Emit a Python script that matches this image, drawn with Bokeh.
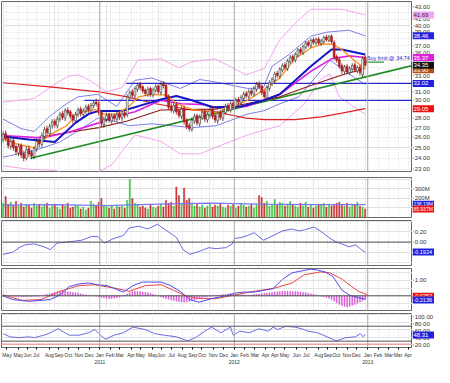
from bokeh.plotting import figure
from bokeh.models import Range1d, FixedTicker, Span, Grid, ColumnDataSource
from bokeh.layouts import column, row
from bokeh.core.properties import value
from bokeh.embed import file_html
from bokeh.resources import INLINE

# ---------------- data (weekly bars, index 0 = late Apr 2010) ----------------
weeks = list(range(141))
opens = [25.8, 26.4, 25.9, 25.1, 25.7, 25.1, 24.5, 25.2, 24.4, 24.0,
         24.9, 24.5, 24.1, 24.9, 25.7, 25.3, 26.1, 26.9, 26.4, 27.2,
         27.7, 27.2, 27.9, 28.5, 28.0, 28.9, 28.7, 28.3, 27.7, 28.4,
         29.0, 28.4, 28.8, 29.3, 28.8, 29.4, 29.8, 29.6, 28.7, 27.3,
         27.9, 28.4, 27.7, 28.3, 27.9, 28.5, 28.0, 28.6, 28.4, 30.3,
         31.0, 30.5, 31.3, 31.9, 31.6, 31.2, 30.7, 31.4, 30.6, 31.2,
         31.7, 30.9, 32.0, 31.8, 30.5, 29.3, 28.8, 29.5, 28.8, 28.2,
         29.1, 27.7, 27.2, 26.8, 27.7, 28.3, 27.4, 28.0, 28.7, 27.8,
         28.3, 29.0, 28.3, 27.7, 28.6, 28.0, 28.6, 29.4, 28.9, 29.7,
         29.3, 30.1, 29.7, 30.2, 30.8, 30.4, 31.1, 30.7, 31.3, 32.0,
         31.7, 31.0, 30.3, 31.4, 32.0, 32.4, 33.3, 32.9, 33.7, 34.4,
         33.9, 34.8, 35.5, 35.0, 35.7, 36.5, 36.0, 36.8, 37.5, 37.0,
         37.9, 37.4, 38.0, 37.3, 37.6, 38.3, 37.8, 38.4, 37.5, 35.5,
         35.1, 34.3, 33.5, 34.2, 33.4, 33.8, 34.4, 33.6, 34.1, 33.1,
         35.4]
highs = [26.6, 26.7, 26.1, 25.9, 25.9, 25.3, 25.4, 25.4, 24.7, 25.1,
         25.2, 24.8, 25.1, 25.9, 25.9, 26.5, 27.1, 27.2, 27.4, 27.9,
         27.9, 28.2, 28.7, 28.8, 29.1, 29.2, 28.9, 28.5, 28.7, 29.2,
         29.3, 29.1, 29.5, 29.6, 29.7, 30.0, 30.2, 29.9, 28.9, 28.2,
         28.6, 28.6, 28.5, 28.5, 28.7, 28.7, 28.8, 28.8, 30.7, 31.2,
         31.3, 31.7, 32.1, 32.2, 31.8, 31.4, 31.6, 31.6, 31.5, 31.9,
         31.9, 32.2, 32.3, 32.0, 30.7, 29.7, 29.8, 29.8, 29.0, 29.3,
         29.4, 28.0, 27.5, 28.1, 28.5, 28.5, 28.4, 28.9, 28.9, 28.7,
         29.2, 29.3, 28.5, 28.8, 28.9, 29.0, 29.6, 29.7, 29.9, 30.0,
         30.3, 30.4, 30.6, 31.0, 31.1, 31.3, 31.4, 31.7, 32.2, 32.3,
         31.9, 31.2, 31.8, 32.4, 32.8, 33.5, 33.6, 34.1, 34.6, 34.7,
         35.2, 35.7, 35.8, 36.1, 36.7, 36.8, 37.2, 37.7, 37.8, 38.1,
         38.2, 38.2, 38.3, 38.0, 38.5, 38.6, 38.6, 38.7, 37.8, 35.8,
         35.4, 34.6, 34.4, 34.5, 34.2, 34.6, 34.7, 34.3, 34.4, 35.5,
         35.7]
lows = [25.5, 25.6, 24.9, 24.8, 24.7, 24.3, 24.2, 24.0, 23.7, 23.8,
        24.1, 23.9, 23.9, 24.6, 25.0, 25.0, 25.8, 26.2, 26.1, 26.9,
        27.0, 26.9, 27.6, 27.8, 27.7, 28.3, 27.9, 27.4, 27.4, 28.1,
        28.2, 28.1, 28.5, 28.6, 28.5, 29.1, 29.3, 28.3, 27.1, 27.0,
        27.6, 27.5, 27.4, 27.7, 27.6, 27.8, 27.7, 28.0, 28.1, 30.0,
        30.3, 30.2, 31.0, 31.2, 30.8, 30.5, 30.4, 30.4, 30.3, 30.9,
        30.7, 30.6, 31.4, 30.1, 28.9, 28.6, 28.5, 28.4, 28.0, 27.9,
        27.3, 26.8, 26.6, 26.6, 27.4, 27.2, 27.1, 27.8, 27.6, 27.5,
        28.0, 27.9, 27.5, 27.4, 27.8, 27.7, 28.4, 28.7, 28.6, 29.1,
        29.0, 29.5, 29.4, 30.0, 30.2, 30.1, 30.5, 30.4, 31.0, 31.3,
        30.6, 30.1, 30.0, 31.1, 31.7, 32.1, 32.7, 32.6, 33.4, 33.7,
        33.6, 34.5, 34.7, 34.7, 35.4, 35.8, 35.7, 36.5, 36.8, 36.7,
        37.2, 37.1, 37.1, 37.0, 37.3, 37.6, 37.5, 37.3, 35.1, 34.7,
        33.9, 33.2, 33.2, 33.2, 33.1, 33.5, 33.4, 33.3, 33.0, 32.8,
        34.1]
closes = [26.3, 25.9, 25.2, 25.6, 25.0, 24.6, 25.1, 24.3, 24.0, 24.8,
          24.4, 24.2, 24.9, 25.6, 25.4, 26.2, 26.8, 26.5, 27.1, 27.6,
          27.3, 27.9, 28.4, 28.1, 28.8, 28.6, 28.2, 27.8, 28.4, 28.9,
          28.5, 28.8, 29.2, 28.9, 29.4, 29.7, 29.6, 28.6, 27.4, 27.9,
          28.3, 27.8, 28.2, 28.0, 28.4, 28.1, 28.5, 28.3, 30.4, 30.9,
          30.6, 31.4, 31.8, 31.5, 31.1, 30.8, 31.3, 30.7, 31.2, 31.6,
          31.0, 31.9, 31.7, 30.4, 29.2, 28.9, 29.4, 28.7, 28.3, 29.0,
          27.6, 27.1, 26.9, 27.8, 28.2, 27.5, 28.1, 28.6, 27.9, 28.4,
          28.9, 28.2, 27.8, 28.5, 28.1, 28.7, 29.3, 29.0, 29.6, 29.4,
          30.0, 29.8, 30.3, 30.7, 30.5, 31.0, 30.8, 31.4, 31.9, 31.6,
          30.9, 30.4, 31.5, 32.1, 32.5, 33.2, 33.0, 33.8, 34.3, 34.0,
          34.9, 35.4, 35.1, 35.8, 36.4, 36.1, 36.9, 37.4, 37.1, 37.8,
          37.5, 37.9, 37.4, 37.7, 38.2, 37.9, 38.3, 37.6, 35.4, 35.0,
          34.2, 33.6, 34.1, 33.5, 33.9, 34.3, 33.7, 34.0, 33.4, 35.2,
          34.35]
volume_m = [150, 220, 140, 160, 130, 170, 120, 150, 110, 140,
            130, 100, 150, 120, 140, 110, 130, 150, 100, 120,
            140, 110, 90, 130, 120, 150, 100, 110, 130, 120,
            90, 110, 80, 100, 170, 140, 120, 160, 200, 130,
            110, 100, 120, 90, 130, 110, 120, 100, 180, 400,
            200, 150, 140, 110, 120, 100, 90, 130, 110, 100,
            120, 140, 110, 180, 150, 160, 120, 320, 230, 140,
            310, 180, 200, 150, 120, 140, 110, 130, 100, 120,
            140, 110, 130, 120, 150, 110, 100, 130, 120, 140,
            100, 120, 150, 130, 110, 120, 140, 100, 130, 230,
            210, 150, 170, 120, 140, 190, 130, 160, 150, 120,
            140, 170, 130, 120, 110, 150, 120, 160, 110, 130,
            100, 120, 140, 130, 150, 110, 140, 120, 130, 150,
            160, 130, 120, 150, 110, 140, 130, 160, 120, 110,
            90]
macd_hist = [0.02, 0.03, 0.0, -0.02, -0.03, -0.05, -0.06,
             -0.06, -0.07, -0.06, -0.05, -0.05, -0.04, -0.03, -0.02,
             0.02, 0.06, 0.10, 0.14, 0.18, 0.22, 0.26,
             0.30, 0.30, 0.28, 0.26, 0.24, 0.22, 0.20,
             0.18, 0.14, 0.10, 0.07, 0.04, 0.02, 0.0, -0.03,
             -0.06, -0.10, -0.14, -0.16, -0.18, -0.17, -0.15, -0.12, -0.08,
             -0.02, 0.05, 0.12, 0.20,
             0.28, 0.30, 0.29, 0.27, 0.25, 0.23, 0.20, 0.16,
             0.10, 0.04, -0.02, -0.08, -0.13, -0.18,
             -0.22, -0.26, -0.31, -0.35, -0.38, -0.40, -0.41, -0.40,
             -0.36, -0.31, -0.26, -0.21, -0.16, -0.12, -0.08, -0.05,
             -0.03, -0.01, 0.01, 0.03, 0.05,
             0.08, 0.10, 0.12, 0.13, 0.12, 0.10, 0.08, 0.07, 0.06, 0.05,
             0.05, 0.06, 0.08, 0.10, 0.12, 0.14, 0.16, 0.18, 0.20, 0.22,
             0.24, 0.26, 0.28, 0.29, 0.30, 0.30, 0.29, 0.28, 0.27, 0.26,
             0.24, 0.22, 0.20, 0.17, 0.14, 0.10, 0.06,
             0.02, -0.02, -0.06, -0.10, -0.16,
             -0.24, -0.34, -0.45, -0.55, -0.63, -0.68, -0.70, -0.68, -0.62,
             -0.55, -0.47, -0.40, -0.32, -0.24]

# overlays (week, value)
orange_w = [0, 6, 12, 18, 24.5, 29, 35.5, 39, 44, 48.7, 52.4, 57.5, 63.4, 67, 73.3, 80.6, 82.4,
            88.6, 94.5, 100.7, 107, 112.8, 119, 123.8, 127.5, 131, 136, 140]
orange_v = [25.9, 25.3, 25.0, 26.25, 27.2, 28.55, 28.95, 28.45, 28.45, 29.3, 30.4, 30.7, 30.6, 29.6,
            28.95, 28.75, 28.55, 29.3, 30.0, 31.2, 32.7, 35.2, 36.7, 37.3, 37.2, 36.5, 34.9, 33.9]
blue_w = [0, 10, 20, 28, 33, 37, 46, 52, 61, 67, 73, 81, 92, 101, 107, 114, 119, 127, 131, 140]
blue_v = [26.1, 25.8, 25.55, 27.5, 28.45, 28.8, 28.8, 29.3, 30.1, 30.5, 30.0, 29.2, 29.3, 30.0,
          30.7, 32.7, 34.2, 36.5, 36.5, 35.8]
magenta_w = [0, 15, 25, 37, 44, 51, 61, 69, 78, 82, 94, 107, 119, 127, 134, 140]
magenta_v = [26.2, 25.95, 26.5, 27.5, 28.2, 28.7, 30.0, 29.6, 29.5, 29.2, 29.3, 30.7, 33.55,
             35.2, 35.6, 35.37]
brown_w = [12, 25, 37, 48, 61, 82, 94, 107, 119, 131, 140]
brown_v = [25.95, 26.5, 27.0, 27.7, 28.9, 29.0, 29.6, 30.4, 31.75, 33.06, 33.9]
red_w = [0, 18, 37, 48, 59, 73, 82, 94, 101, 113, 123, 131, 140]
red_v = [32.1, 31.6, 31.0, 30.4, 29.6, 28.9, 28.7, 28.0, 27.85, 27.85, 28.15, 28.55, 29.05]
bb_up_w = [0, 7, 12, 18, 24.5, 29, 36.6, 44, 51, 57.5, 68.5, 76, 82, 94.5, 100.7, 104, 110.6,
           119, 125, 133.7, 140]
bb_up_v = [27.9, 26.9, 26.6, 28.2, 29.6, 30.4, 30.7, 29.3, 32.4, 32.7, 31.4, 32.5, 32.2, 31.4,
           31.5, 34.2, 35.8, 38.4, 39.0, 39.3, 38.46]
bb_lo_w = [0, 12, 22, 30.4, 36.6, 44, 48.7, 57.5, 73.3, 82.4, 94.5, 100.7, 107, 114.3, 121.6,
           126.4, 131, 136, 140]
bb_lo_v = [24.1, 24.7, 25.55, 26.9, 28.0, 27.6, 27.2, 27.4, 27.0, 27.2, 28.45, 28.8, 29.6,
           30.4, 33.1, 35.0, 33.9, 32.7, 31.9]
pk_up_w = [0, 12, 18, 25, 29, 34, 40, 46, 52, 61, 68, 73, 82, 94, 101, 107, 114, 119, 131, 140]
pk_up_v = [29.8, 30.2, 31.5, 32.9, 33.1, 32.3, 31.0, 31.5, 35.0, 35.2, 34.0, 34.8, 35.2, 33.1,
           33.9, 37.9, 40.8, 42.6, 42.6, 41.69]
pk_lo_w = [0, 10, 20, 26, 34, 42, 51, 61, 68.5, 76, 82, 94.5, 107, 116.5, 122.7, 126.4, 130,
           137, 140]
pk_lo_v = [23.3, 23.0, 22.9, 22.5, 22.4, 23.4, 26.25, 25.6, 24.4, 24.4, 25.0, 26.25, 27.2, 29.6,
           32.5, 33.2, 30.4, 29.0, 28.45]
trend_w = [10.6, 158.3]
trend_v = [24.0, 34.3]
level_hi_w = [47.6, 158.3]
level_hi_v = [32.02, 32.02]
level_lo_w = [31.5, 158.3]
level_lo_v = [30.0, 30.0]
buy_w = [140.3, 147.3]
buy_v = [34.74, 34.74]
buy_text = ["Buy limit @ 34.74"]

vol_ma_w = [0, 20, 40, 60, 80, 100, 120, 140]
vol_ma_v = [130, 135, 125, 140, 150, 140, 135, 136.19]

osc_w = [0, 3.7, 6.2, 8.4, 12.1, 15.8, 18.3, 20.9, 24.5, 30.4, 34.1, 36.6, 39.2, 42.9, 46.5, 48.7,
         52.4, 56.0, 59.7, 63.4, 67.0, 69.6, 72.2, 75.8, 79.5, 82.4, 86.1, 88.6, 89.7, 92.3, 94.5,
         97.1, 100.7, 104.4, 108.1, 111.7, 114.3, 116.5, 120.1, 122.7, 126.4, 128.9, 131.1, 133.7,
         136.3, 138.5, 140]
osc_v = [-0.237, -0.2, -0.109, -0.055, -0.036, -0.091, -0.146, -0.018, 0.0, 0.036, 0.109, 0.109,
         -0.018, 0.073, 0.127, 0.273, 0.309, 0.255, 0.346, 0.218, 0.091, -0.146, -0.237, -0.182,
         -0.109, -0.127, -0.109, -0.036, 0.073, 0.091, 0.127, 0.182, 0.036, 0.127, 0.218, 0.255,
         0.218, 0.237, 0.291, 0.218, 0.073, 0.0, -0.036, -0.091, -0.055, -0.146, -0.1924]

macd_w = [0, 3.7, 9.9, 14.7, 18.3, 22.0, 25.6, 29.3, 33.0, 36.6, 40.3, 46.5, 50.2, 53.8, 57.5,
          61.2, 64.8, 68.5, 72.2, 75.8, 80.6, 86.1, 89.7, 93.4, 97.1, 100.7, 104.4, 108.1, 111.7,
          115.4, 119.0, 121.6, 124.5, 127.5, 131.1, 133.7, 137.4, 140]
macd_v = [0.0, -0.24, -0.35, -0.29, -0.24, 0.06, 0.59, 0.76, 0.82, 0.71, 0.65, 0.24, 0.65, 0.88,
          0.88, 0.88, 0.65, 0.29, -0.24, -0.41, -0.18, 0.0, 0.18, 0.24, 0.24, 0.35, 0.47, 1.06,
          1.47, 1.59, 1.71, 1.65, 1.53, 1.24, 0.35, 0.06, -0.12, -0.21]
sig_w = [0, 7.3, 14.7, 22.0, 29.3, 35.5, 44.0, 48.7, 55.0, 61.2, 65.9, 70.7, 75.8, 82.4, 89.7,
         97.1, 104.4, 111.7, 116.5, 122.7, 126.4, 131.1, 134.8, 137.4, 141]
sig_v = [0.06, -0.29, -0.24, 0.29, 0.65, 0.71, 0.47, 0.29, 0.65, 0.71, 0.35, 0.0, -0.18, -0.18,
         0.06, 0.29, 0.47, 0.82, 1.35, 1.53, 1.47, 1.06, 0.59, 0.29, 0.06]

rsi_w = [0, 2.6, 6.2, 9.9, 12.1, 15.8, 18.3, 21.2, 25.6, 29.3, 33.0, 35.5, 37.7, 39.6, 42.9, 46.5,
         50.2, 54.9, 58.6, 62.3, 67.0, 71.4, 74.4, 78.0, 80.6, 84.2, 86.8, 87.9, 89.0, 91.6, 95.2,
         98.9, 102.6, 104.4, 106.2, 109.2, 112.8, 115.4, 117.9, 121.6, 125.3, 128.9, 132.6, 136.3,
         138.1, 139.2, 140]
rsi_v = [50.3, 41.6, 39.5, 41.6, 39.5, 45.9, 52.4, 63.2, 45.9, 45.9, 52.4, 61.1, 45.9, 35.1,
         45.9, 52.4, 67.6, 61.1, 50.3, 45.9, 41.6, 30.8, 39.5, 56.8, 67.6, 52.4, 63.2, 67.6, 45.9,
         56.8, 52.4, 63.2, 56.8, 67.6, 61.1, 69.7, 67.6, 63.2, 56.8, 52.4, 41.6, 30.8, 39.5, 41.6,
         50.3, 41.6, 48.31]

month_ticks = [1.5, 5.9, 9.5, 12.8, 17.9, 21.6, 25.3, 29.3, 33.3, 37.4,
               41.4, 45.1, 49.5, 53.1, 57.9, 61.2, 65.2, 69.2, 73.3, 76.9, 81.3, 85.3, 89.4,
               93.4, 97.4, 101.5, 105.1, 108.8, 113.6, 117.2, 122.0, 125.6, 128.9, 133.0, 136.6, 141.0,
               145.0, 149.1, 152.7, 156.6]
month_labels = ["May", "May", "Jun", "Jul", "Aug", "Sep", "Oct", "Nov", "Dec", "Jan\n2011",
                "Feb", "Mar", "Apr", "May", "May", "Jun", "Jul", "Aug", "Sep", "Oct", "Nov", "Dec", "Jan\n2012",
                "Feb", "Mar", "Apr", "Apr", "May", "Jun", "Jul", "Aug", "Sep", "Oct", "Nov", "Dec", "Jan\n2013",
                "Feb", "Mar", "Mar", "Apr"]
year_lines = [37.4, 89.4, 141.0]

# right-hand scale labels and value tags, per panel
price_ticks = [23, 24, 25, 26, 27, 28, 30, 31, 33, 36, 37, 39, 40, 41, 43]
price_tick_labels = ["23.00", "24.00", "25.00", "26.00", "27.00", "28.00", "30.00", "31.00",
                     "33.00", "36.00", "37.00", "39.00", "40.00", "41.00", "43.00"]
price_grid = list(range(23, 44))
price_tags = [41.69, 38.46, 33.75, 35.37, 34.35, 32.02, 29.05]
price_tag_text = ["41.69", "38.46", "33.90", "35.37", "34.35", "32.02", "29.05"]
price_tag_bg = ["#f2a6ef", "#2222dd", "#b0521c", "#dd22dd", "#111111", "#2222dd", "#ee1111"]
price_tag_fg = ["#333333", "white", "white", "white", "white", "white", "white"]

vol_ticks = [200, 300]
vol_tick_labels = ["200M", "300M"]
vol_tags = [140, 88]
vol_tag_text = ["136.19M", "85.937M"]
vol_tag_bg = ["#2222dd", "#ee1111"]

osc_ticks = [0.0, 0.2]
osc_tick_labels = ["0.00", "0.20"]
osc_tags = [-0.1924]
osc_tag_text = ["-0.1924"]
osc_tag_bg = ["#2222dd"]

macd_ticks = [1.0]
macd_tick_labels = ["1.00"]
macd_tags = [-0.0252, -0.26]
macd_tag_text = ["-0.0252", "-0.2136"]
macd_tag_bg = ["#ee1111", "#2222dd"]

rsi_ticks = [20, 40, 60, 80, 100]
rsi_tick_labels = ["20.00", "40.00", "60.00", "80.00", "100.00"]
rsi_tags = [48.31]
rsi_tag_text = ["48.31"]
rsi_tag_bg = ["#2222dd"]

# ---------------- layout helpers ----------------
PW = 412
SW = 22
X0, X1 = -0.6, 158.3
FONT = "Liberation Sans"
xr = Range1d(X0, X1)


def panel(height, y_range, top, bottom, grid_ticks, log=False, xaxis=False):
    p = figure(width=PW, height=height, x_range=xr, y_range=y_range,
               y_axis_type="log" if log else "linear",
               y_axis_location=None, x_axis_location="below" if xaxis else None,
               output_backend="svg", toolbar_location=None,
               min_border_left=1, min_border_right=0, min_border_top=top,
               min_border_bottom=bottom)
    p.outline_line_color = "#666666"
    p.background_fill_color = "white"
    p.border_fill_color = "white"
    p.add_layout(Grid(dimension=1, ticker=FixedTicker(ticks=grid_ticks),
                      grid_line_color="#d8d8d8", grid_line_dash="1 2"))
    if xaxis:
        p.xaxis.ticker = FixedTicker(ticks=month_ticks)
        p.xaxis.major_label_overrides = {t: l for t, l in zip(month_ticks, month_labels)}
        p.xaxis.major_label_text_font_size = "5px"
        p.xaxis.major_label_text_font = FONT
        p.xaxis.major_label_text_color = "#333333"
        p.xaxis.major_label_standoff = 2
        p.xaxis.major_tick_out = 2
        p.xaxis.major_tick_in = 0
        p.xaxis.minor_tick_line_color = None
        p.xaxis.axis_line_color = "#666666"
        p.xgrid.ticker = FixedTicker(ticks=month_ticks)
        p.xgrid.grid_line_color = "#d8d8d8"
        p.xgrid.grid_line_dash = "1 2"
    else:
        p.add_layout(Grid(dimension=0, ticker=FixedTicker(ticks=month_ticks),
                          grid_line_color="#d8d8d8", grid_line_dash="1 2"))
    for yl in year_lines:
        p.add_layout(Span(location=yl, dimension="height", line_color="#aaaaaa", line_width=1))
    return p


def side(height, y_range, top, bottom, ticks, labels, tags, tag_text, tag_bg, tag_fg=None,
         log=False, tag_size="6px"):
    s = figure(width=SW, height=height, x_range=Range1d(0, 1), y_range=y_range,
               y_axis_type="log" if log else "linear",
               x_axis_location=None, y_axis_location=None,
               output_backend="svg", toolbar_location=None,
               min_border_left=0, min_border_right=0, min_border_top=top,
               min_border_bottom=bottom)
    s.outline_line_color = None
    s.background_fill_color = "white"
    s.border_fill_color = "white"
    s.grid.visible = False
    s.segment(x0=[0] * len(ticks), y0=ticks, x1=[0.07] * len(ticks), y1=ticks,
              line_color="#777777", line_width=0.8)
    s.text(x=[0.1] * len(ticks), y=ticks, text=labels, text_font_size="6px",
           text_font=value(FONT), text_baseline="middle", text_color="#333333")
    if tag_fg is None:
        tag_fg = ["white"] * len(tags)
    for ty, tt, tb, tf in zip(tags, tag_text, tag_bg, tag_fg):
        s.rect(x=[0.5], y=[ty], width=[1.0], height=7, height_units="screen",
               fill_color=tb, line_color=None)
        s.text(x=[0.04], y=[ty], text=[tt], text_font_size=tag_size,
               text_font=value(FONT), text_baseline="middle", text_color=tf)
    return s


# ---------------- main price panel ----------------
HM, TM, BM = 174, 1, 3
yr_m = Range1d(22.8, 43.9)
pm = panel(HM, yr_m, TM, BM, price_grid, log=True)

pm.line(pk_up_w, pk_up_v, line_color="#f2a6ef", line_width=1)
pm.line(pk_lo_w, pk_lo_v, line_color="#f2a6ef", line_width=1)
pm.line(bb_up_w, bb_up_v, line_color="#6f6fe8", line_width=0.9)
pm.line(bb_lo_w, bb_lo_v, line_color="#6f6fe8", line_width=0.9)
pm.line(red_w, red_v, line_color="#e02020", line_width=1.2)
pm.line(level_lo_w, level_lo_v, line_color="#2b2bc8", line_width=1.3)
pm.line(level_hi_w, level_hi_v, line_color="#2b2bc8", line_width=1.3)
pm.line(trend_w, trend_v, line_color="#1f8a1f", line_width=1.6)
pm.line(brown_w, brown_v, line_color="#8b1c1c", line_width=1.1)
pm.line(magenta_w, magenta_v, line_color="#e020e0", line_width=1.6)
pm.line(blue_w, blue_v, line_color="#1515c8", line_width=2.0)
pm.line(orange_w, orange_v, line_color="#ff8c1a", line_width=1.3)
pm.line(buy_w, buy_v, line_color="#2e9a2e", line_width=1.2)

up_c = [c >= o for o, c in zip(opens, closes)]
src = ColumnDataSource(dict(
    x=weeks, o=opens, h=highs, l=lows, c=closes,
    top=[max(o, c) for o, c in zip(opens, closes)],
    bot=[min(o, c) for o, c in zip(opens, closes)],
    fill=["white" if u else "#cc2222" for u in up_c],
    edge=["#333333" if u else "#991111" for u in up_c],
))
pm.segment(x0="x", y0="l", x1="x", y1="h", source=src, line_color="edge", line_width=0.8)
pm.vbar(x="x", top="top", bottom="bot", width=0.7, source=src, fill_color="fill",
        line_color="edge", line_width=0.6)
pm.text(x=[140.6], y=[35.25], text=buy_text, text_font_size="5.5px",
        text_font=value(FONT), text_color="#2222cc", text_baseline="middle")

sm = side(HM, yr_m, TM, BM, price_ticks, price_tick_labels, price_tags, price_tag_text,
          price_tag_bg, price_tag_fg, log=True)

# ---------------- volume panel ----------------
HV, TV, BV = 44, 3, 1
yr_v = Range1d(0, 420)
pv = panel(HV, yr_v, TV, BV, [100, 200, 300, 400])
vsrc = ColumnDataSource(dict(x=weeks, v=volume_m,
                             col=["#3fc43f" if u else "#c83030" for u in up_c]))
pv.vbar(x="x", top="v", bottom=0, width=0.45, source=vsrc, fill_color="col", line_color="col",
        line_width=0.5)
pv.line(vol_ma_w, vol_ma_v, line_color="#7777ee", line_width=1.2)
sv = side(HV, yr_v, TV, BV, vol_ticks, vol_tick_labels, vol_tags, vol_tag_text, vol_tag_bg,
          tag_size="5px")

# ---------------- oscillator panel ----------------
HO, TO, BO = 48, 2, 1
yr_o = Range1d(-0.455, 0.42)
po = panel(HO, yr_o, TO, BO, [-0.2, 0.0, 0.2])
po.add_layout(Span(location=0, dimension="width", line_color="#555555", line_width=1))
po.line(osc_w, osc_v, line_color="#5a5ae0", line_width=0.9)
so = side(HO, yr_o, TO, BO, osc_ticks, osc_tick_labels, osc_tags, osc_tag_text, osc_tag_bg,
          tag_size="5.5px")

# ---------------- MACD panel ----------------
HC, TC, BC = 45, 2, 1
yr_c = Range1d(-0.94, 1.75)
pc = panel(HC, yr_c, TC, BC, [0.0, 1.0])
pc.vbar(x=weeks, top=macd_hist, bottom=0, width=0.35, fill_color="#d64bd6",
        line_color="#d64bd6", line_width=0.4)
pc.add_layout(Span(location=0, dimension="width", line_color="#555555", line_width=1))
pc.line(sig_w, sig_v, line_color="#ee4444", line_width=1)
pc.line(macd_w, macd_v, line_color="#4a4aee", line_width=1)
sc = side(HC, yr_c, TC, BC, macd_ticks, macd_tick_labels, macd_tags, macd_tag_text, macd_tag_bg,
          tag_size="5.5px")

# ---------------- RSI panel ----------------
HR, TR, BR = 56, 2, 17
yr_r = Range1d(13, 104)
pr = panel(HR, yr_r, TR, BR, [20, 40, 60, 80, 100], xaxis=True)
pr.add_layout(Span(location=70, dimension="width", line_color="#555555", line_width=1))
pr.add_layout(Span(location=30, dimension="width", line_color="#555555", line_width=1))
pr.add_layout(Span(location=22, dimension="width", line_color="#f08080", line_width=1))
pr.line(rsi_w, rsi_v, line_color="#5a5ae0", line_width=0.9)
# the scale column reaches 2px higher than the panel frame so the top label is not cut
frame_r = HR - TR - BR
yr_rs = Range1d(13, 104 + 2 * (104 - 13) / frame_r)
sr = side(HR, yr_rs, 0, BR, rsi_ticks, rsi_tick_labels, rsi_tags, rsi_tag_text, rsi_tag_bg)

layout = column(row(pm, sm, spacing=0), row(pv, sv, spacing=0), row(po, so, spacing=0),
                row(pc, sc, spacing=0), row(pr, sr, spacing=0), spacing=0)
open("out.html", "w").write(file_html(layout, INLINE))
